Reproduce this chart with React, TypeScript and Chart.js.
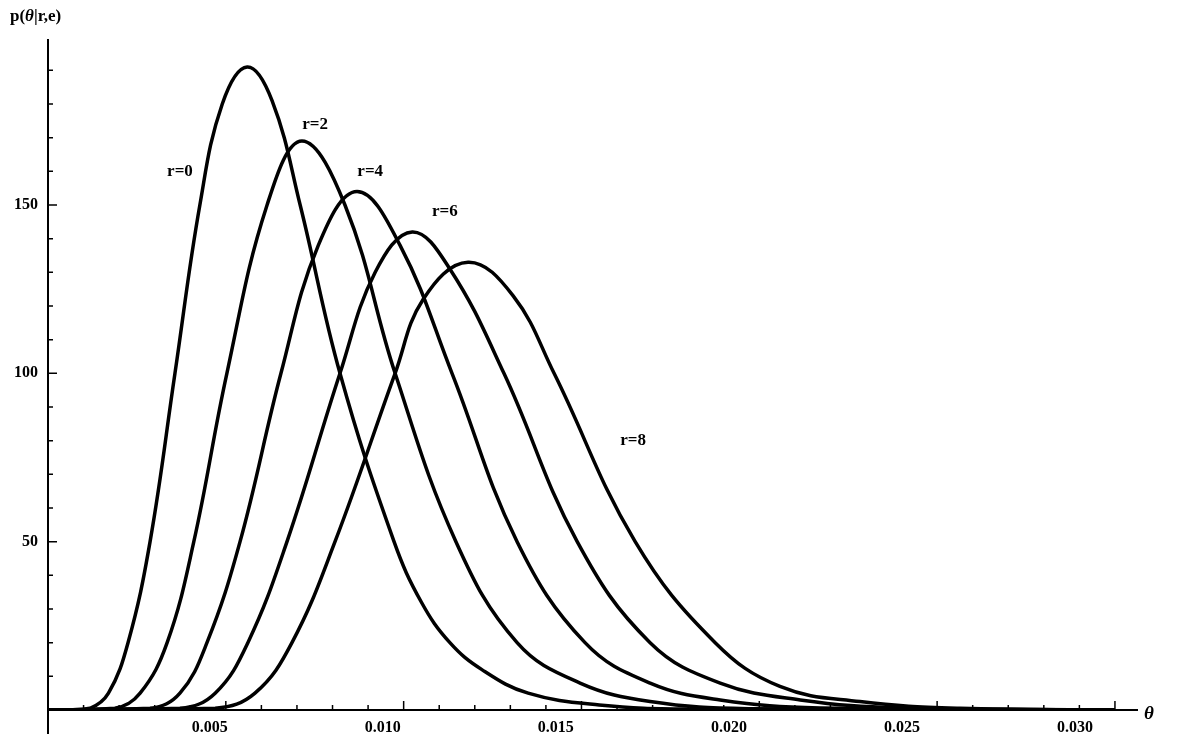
import { useRef, useEffect } from "react";
import { Chart } from "chart.js/auto";

// values (theta, density)
const theta0 = [0, 0.0005, 0.00118, 0.0017, 0.00225, 0.00287, 0.00357, 0.00427, 0.0049, 0.0056, 0.0063, 0.00709, 0.00821, 0.00973, 0.0105, 0.0113, 0.0122, 0.0135, 0.0155, 0.018, 0.03];
const r0 = [0, 0, 0.5, 5, 20, 50, 100, 150, 180, 191, 181, 150, 100, 50, 32, 20, 12, 5, 1.5, 0.3, 0];

const theta2 = [0, 0.00188, 0.00259, 0.00335, 0.0041, 0.00503, 0.00616, 0.00714, 0.00835, 0.00976, 0.01147, 0.01319, 0.01496, 0.01693, 0.0197, 0.03];
const r2 = [0, 0.5, 5, 20, 50, 100, 150, 169, 150, 100, 50, 20, 8, 2.5, 0.4, 0];

const theta4 = [0, 0.00287, 0.00371, 0.00447, 0.0054, 0.00655, 0.0076, 0.00869, 0.0099, 0.01136, 0.01319, 0.0151, 0.01693, 0.0189, 0.0217, 0.03];
const r4 = [0, 0.5, 5, 20, 50, 100, 138, 154, 138, 100, 50, 20, 8, 3, 0.6, 0];

const theta6 = [0, 0.00371, 0.0047, 0.00562, 0.00672, 0.00821, 0.0092, 0.01024, 0.0113, 0.01282, 0.01488, 0.01693, 0.0189, 0.02115, 0.024, 0.03];
const r6 = [0, 0.5, 5, 20, 50, 100, 130, 142, 131, 100, 50, 20, 8, 3, 0.6, 0];

const theta8 = [0, 0.0047, 0.00582, 0.00686, 0.00807, 0.00976, 0.01055, 0.01181, 0.01308, 0.01423, 0.01651, 0.01876, 0.02058, 0.02283, 0.02565, 0.03];
const r8 = [0, 0.5, 5, 20, 50, 100, 122, 133, 123, 100, 50, 20, 7, 2.5, 0.5, 0];

const xTickLabels = ["0.005", "0.010", "0.015", "0.020", "0.025", "0.030"];
const yTickLabels = [50, 100, 150];

const curveLabels = [
  { text: "r=0", x: 0.00371, y: 160 },
  { text: "r=2", x: 0.00751, y: 174 },
  { text: "r=4", x: 0.00906, y: 160 },
  { text: "r=6", x: 0.01116, y: 148 },
  { text: "r=8", x: 0.01645, y: 80 },
];

const font = "'Liberation Serif', 'DejaVu Serif', serif";

const drawPlugin = {
  id: "extras",
  afterDraw(chart: any) {
    const { ctx, scales } = chart;
    const xs = scales.x;
    const ys = scales.y;
    const y0 = ys.getPixelForValue(0);
    const x0 = xs.getPixelForValue(0);
    ctx.save();
    ctx.strokeStyle = "#000";
    ctx.lineWidth = 1.5;
    ctx.beginPath();
    for (let i = 1; i <= 30; i++) {
      const px = xs.getPixelForValue(i / 1000);
      ctx.moveTo(px, y0);
      ctx.lineTo(px, y0 - (i % 5 === 0 ? 9 : 5));
    }
    for (let v = 10; v <= 190; v += 10) {
      const py = ys.getPixelForValue(v);
      ctx.moveTo(x0, py);
      ctx.lineTo(x0 + (v % 50 === 0 ? 9 : 5), py);
    }
    ctx.stroke();
    ctx.fillStyle = "#000";
    ctx.font = `bold 16px ${font}`;
    ctx.textBaseline = "middle";
    ctx.textAlign = "center";
    xTickLabels.forEach((t, k) => {
      const px = xs.getPixelForValue(Number(t)) - 16 - k * 4.8;
      ctx.fillText(t, px, y0 + 18);
    });
    ctx.textAlign = "right";
    yTickLabels.forEach((v) => {
      ctx.fillText(String(v), 38, ys.getPixelForValue(v));
    });
    ctx.font = `bold 17px ${font}`;
    ctx.textAlign = "center";
    curveLabels.forEach((l) => {
      ctx.fillText(l.text, xs.getPixelForValue(l.x), ys.getPixelForValue(l.y));
    });
    ctx.textAlign = "left";
    ctx.fillText("p(", 10, 17);
    const w1 = ctx.measureText("p(").width;
    ctx.font = `bold italic 17px ${font}`;
    ctx.fillText("θ", 10 + w1, 17);
    const w2 = ctx.measureText("θ").width;
    ctx.font = `bold 17px ${font}`;
    ctx.fillText("|r,e)", 10 + w1 + w2, 17);
    ctx.font = `bold italic 19px ${font}`;
    ctx.fillText("θ", 1144, 714);
    // y axis extends a little below the x axis
    ctx.lineWidth = 2;
    ctx.beginPath();
    ctx.moveTo(x0, y0);
    ctx.lineTo(x0, y0 + 24);
    ctx.stroke();
    ctx.restore();
  },
};

const mk = (xs: number[], ys: number[]) => xs.map((x, i) => ({ x, y: ys[i] }));

export default function App() {
  const canvasRef = useRef<HTMLCanvasElement>(null);
  const chartRef = useRef<Chart | null>(null);

  useEffect(() => {
    document.body.style.margin = "0";
    if (canvasRef.current) {
      const series = [mk(theta0, r0), mk(theta2, r2), mk(theta4, r4), mk(theta6, r6), mk(theta8, r8)];
      chartRef.current = new Chart(canvasRef.current, {
        type: "line",
        data: {
          datasets: series.map((d) => ({
            data: d,
            borderColor: "#000",
            borderWidth: 3.5,
            pointRadius: 0,
            tension: 0.4,
            fill: false,
          })),
        },
        options: {
          animation: false,
          responsive: false,
          layout: { padding: { top: 40, right: 46, left: 0, bottom: 0 } },
          plugins: { legend: { display: false }, tooltip: { enabled: false } },
          scales: {
            x: {
              type: "linear",
              min: 0,
              max: 0.03062,
              afterFit: (s: any) => { s.height = 39; },
              border: { color: "#000", width: 2 },
              grid: { display: false },
              ticks: { display: false },
            },
            y: {
              min: 0,
              max: 199,
              afterFit: (s: any) => { s.width = 48; },
              border: { color: "#000", width: 2 },
              grid: { display: false },
              ticks: { display: false },
            },
          },
        },
        plugins: [drawPlugin],
      });
    }
    return () => {
      if (chartRef.current) {
        chartRef.current.destroy();
        chartRef.current = null;
      }
    };
  }, []);

  return <canvas ref={canvasRef} width={1183} height={749} />;
}
